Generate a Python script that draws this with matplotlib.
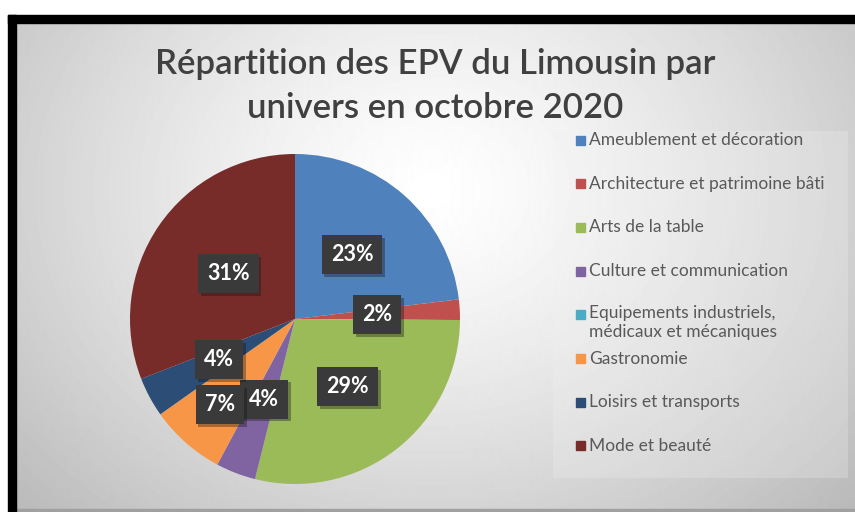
import numpy as np
import matplotlib.pyplot as plt
import matplotlib.patches as patches
import matplotlib.patheffects as pe

# data (share of EPV per univers, %)
categories = ['Ameublement et décoration', 'Architecture et patrimoine bâti',
              'Arts de la table', 'Culture et communication',
              'Equipements industriels,\nmédicaux et mécaniques', 'Gastronomie',
              'Loisirs et transports', 'Mode et beauté']
shares = [23.1, 2.0, 28.8, 3.9, 0.0, 7.4, 3.9, 30.9]
colors = ['#4F81BD', '#C0504D', '#9BBB59', '#8064A2',
          '#4BACC6', '#F79646', '#2C4D75', '#772C2A']
# radial distance of each data label (fraction of radius)
label_dist = [0.52, 0.50, 0.52, 0.52, 0.52, 0.69, 0.52, 0.49]

title = 'Répartition des EPV du Limousin par\nunivers en octobre 2020'

W, H = 855, 512
fig = plt.figure(figsize=(W / 100, H / 100), dpi=100)

# background: radial grey gradient
bg = fig.add_axes([0, 0, 1, 1])
yy, xx = np.mgrid[0:H, 0:W]
r = np.hypot((xx - 430) / 520, (yy - 190) / 420)
shade = 1 - 0.24 * np.clip(r, 0, 1.3) ** 1.3
bg.imshow(shade, cmap='gray', vmin=0, vmax=1, extent=[0, W, H, 0], aspect='auto')
bg.set_xlim(0, W)
bg.set_ylim(H, 0)
bg.axis('off')

# white margin and black frame (top and left)
bg.add_patch(patches.Rectangle((0, 0), W, 15, color='white', zorder=3))
bg.add_patch(patches.Rectangle((0, 0), 8, H, color='white', zorder=3))
bg.add_patch(patches.Rectangle((8, 15), W, 8, color='black', zorder=4))
bg.add_patch(patches.Rectangle((8, 15), 8, H, color='black', zorder=4))
bg.add_patch(patches.Rectangle((16, 509), W, 3, color='#a0a0a0', zorder=2))

# legend panel
bg.add_patch(patches.Rectangle((553, 131), 295, 347, facecolor='#f2f2f2',
                               alpha=0.25, edgecolor='none', zorder=2))

fig.text(435 / W, 1 - 86 / H, title, ha='center', va='center', fontsize=25,
         family='Lato', weight='semibold', color='#404040', linespacing=1.45)

# pie
cx, cy, R = 295, 319, 165
ax = fig.add_axes([(cx - R) / W, (H - cy - R) / H, 2 * R / W, 2 * R / H])
wedges, _ = ax.pie(shares, colors=colors, startangle=90, counterclock=False,
                   radius=1, wedgeprops=dict(linewidth=0))
ax.set_xlim(-1, 1)
ax.set_ylim(-1, 1)
ax.set_aspect('equal')

for w, v, d in zip(wedges, shares, label_dist):
    if v <= 0:
        continue
    th = np.deg2rad((w.theta1 + w.theta2) / 2)
    t = ax.text(d * np.cos(th), d * np.sin(th), f'{v:.0f}%', ha='center',
                va='center', fontsize=15.5, family='Lato', weight='bold',
                color='white', zorder=5,
                bbox=dict(boxstyle='square,pad=0.42', facecolor='#3a3a3a',
                          edgecolor='none'))
    t.get_bbox_patch().set_path_effects(
        [pe.SimplePatchShadow(offset=(2, -2), alpha=0.35), pe.Normal()])

# legend entries
y0, step = 140, 43.7
for i, (lab, c) in enumerate(zip(categories, colors)):
    y = y0 + i * step
    bg.add_patch(patches.Rectangle((576, y - 4.5), 9, 9, color=c, zorder=5))
    if '\n' in lab:
        bg.text(589, y - 10, lab, ha='left', va='top', fontsize=12.5,
                family='Lato', color='#595959', zorder=5, linespacing=1.25)
    else:
        bg.text(589, y, lab, ha='left', va='center', fontsize=12.5,
                family='Lato', color='#595959', zorder=5)

fig.savefig('out.png', dpi=100)
